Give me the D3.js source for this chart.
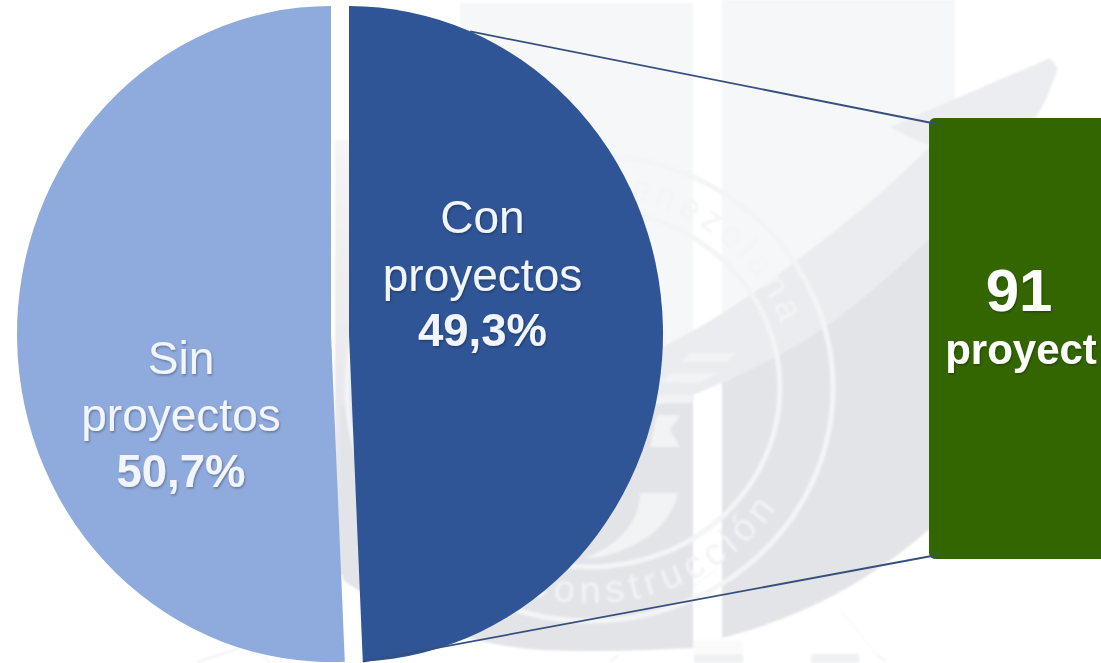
<!DOCTYPE html>
<html><head><meta charset="utf-8">
<script src="https://cdn.jsdelivr.net/npm/d3@7"></script>
<style>html,body{margin:0;padding:0;background:#fff;overflow:hidden}svg{display:block}text{font-family:"Liberation Sans",Arial,sans-serif}</style>
</head><body><svg id="c" width="1101" height="663"></svg>
<script>
const categories = ["Con proyectos", "Sin proyectos"];
const shareValues = [49.3, 50.7];
const shareLabels = ["49,3%", "50,7%"];
const sliceColors = ["#2F5597", "#8FAADC"];
const calloutNumber = "91";
const calloutWord = "proyect";

const svg = d3.select("#c");
const defs = svg.append("defs");
const sh = defs.append("filter").attr("id","sh").attr("x","-20%").attr("y","-20%").attr("width","140%").attr("height","140%");
sh.append("feDropShadow").attr("dx",1).attr("dy",1.5).attr("stdDeviation",1.2).attr("flood-color","#000").attr("flood-opacity",.3);
const gr = defs.append("linearGradient").attr("id","gapGrad").attr("gradientUnits","userSpaceOnUse")
  .attr("x1",0).attr("y1",140).attr("x2",0).attr("y2",500);
gr.append("stop").attr("offset",0).attr("stop-color","#f5f5f6");
gr.append("stop").attr("offset",1).attr("stop-color","#e3e4e8");
const blur = defs.append("filter").attr("id","soft");
blur.append("feGaussianBlur").attr("stdDeviation",.8);

/* watermark */
const wm = svg.append("g").attr("filter","url(#soft)");
const wmShape = (d,c)=>wm.append("path").attr("d",d).attr("fill",c);
wmShape("M460,3 H693 V400 H460 Z","#f6f7f8");
wmShape("M722,0 H955 V400 H722 Z","#f6f7f8");
wmShape("M335,140 H362 V575 H335 Z","url(#gapGrad)");
wmShape("M340,405 L640,405 L693,395 L693,648 C640,651 590,652 540,650 C470,645 400,620 343,580 Z","#e3e4e8");
wmShape("M722,383 C760,365 800,345 830,323 C870,295 905,260 955,215 L955,505 C880,580 800,618 722,638 Z","#e3e4e8");
wmShape("M640,358 C690,335 745,302 797,260 C840,228 895,185 955,120 L955,215 C905,260 870,295 830,323 C800,345 760,365 722,383 L693,395 L640,410 Z","#ebecef");
wmShape("M890,127 L1050,58 L1058,68 C1050,90 1045,105 1035,118 L928,145 L907,136 Z","#ecedf0");
wmShape("M693,640 H743 V653 H693 Z","#fafafa");
wmShape("M694,654 H743 V663 H694 Z","#f0f1f2");
wmShape("M811,654 H859 V663 H811 Z","#f0f1f2");
/* crest details */
const crest = "#f2f3f5";
wmShape("M680,362 L690,353 L737,353 L727,362 Z",crest);
wmShape("M660,382 L673,373 L717,373 L700,383 Z",crest);
wmShape("M655,403 L660,395 L692,395 L692,403 Z",crest);
wmShape("M657,415 L680,415 L670,430 L680,447 L650,447 Z",crest);
wmShape("M640,493 L678,493 C672,520 650,545 600,557 L585,558 C620,545 640,520 640,493 Z",crest);
wm.append("path").attr("fill","none").attr("stroke","#e4e4e6").attr("stroke-width",1)
  .attr("d","M197,662 L240,648 M263,655 L270,663 M610,662 L618,655 M877,655 L887,662");
wm.append("path").attr("fill","none").attr("stroke","#f3f3f4").attr("stroke-width",1)
  .attr("d","M693,587 L718,568 M840,610 L877,655");
const cx0 = 590, cy0 = 388;
[[243,233,5],[190,179,5]].forEach(r=>wm.append("ellipse").attr("cx",cx0).attr("cy",cy0).attr("rx",r[0]).attr("ry",r[1])
  .attr("fill","none").attr("stroke","#f3f4f6").attr("stroke-width",r[2]));
defs.append("path").attr("id","topArc").attr("d",`M${cx0-203},${cy0} A203,193 0 0 1 ${cx0+203},${cy0}`);
defs.append("path").attr("id","botArc").attr("d",`M${cx0-225},${cy0} A225,215 0 0 0 ${cx0+225},${cy0}`);
wm.append("text").attr("font-size",36).attr("fill","#f3f4f6").attr("letter-spacing",5)
  .append("textPath").attr("href","#topArc").attr("startOffset","71%").attr("text-anchor","middle").text("Venezolana");
wm.append("text").attr("font-size",38).attr("fill","#f2f3f5").attr("letter-spacing",6)
  .append("textPath").attr("href","#botArc").attr("startOffset","61%").attr("text-anchor","middle").text("Construcción");

/* pie */
const Rx = 314, Ry = 328, cy = 334;
const apexX = [349, 331];
const pie = d3.pie().sort(null).startAngle(0).endAngle(2*Math.PI);
const arcs = pie(shareValues);
const arc = d3.arc().innerRadius(0).outerRadius(Ry);
const sx = Rx/Ry;
svg.append("g").selectAll("path").data(arcs).join("path")
  .attr("transform",(d,i)=>`translate(${apexX[i]},${cy}) scale(${sx},1)`)
  .attr("d",arc).attr("fill",(d,i)=>sliceColors[i]);

/* callout box */
svg.append("rect").attr("x",929).attr("y",118).attr("width",190).attr("height",441).attr("rx",6)
  .attr("fill","#336600");

/* connector lines */
const rimPoint = a => [apexX[0]+Rx*Math.sin(a), cy-Ry*Math.cos(a)];
const topPt = rimPoint(22.7*Math.PI/180), botPt = rimPoint(arcs[0].endAngle);
const line = d3.line();
[[topPt,[937,124]],[botPt,[937,555]]].forEach(p=>svg.append("path").attr("d",line(p))
  .attr("fill","none").attr("stroke","#35507c").attr("stroke-width",1.8));

/* labels */
const lab = [{x:482.5,ys:[233,291,346]},{x:181,ys:[374,431,487]}];
categories.forEach((c,i)=>{
  const parts = c.split(" ");
  const g = svg.append("g").attr("text-anchor","middle").attr("fill","#f2f5fb").attr("filter","url(#sh)");
  g.append("text").attr("x",lab[i].x).attr("y",lab[i].ys[0]).attr("font-size",46).text(parts[0]);
  g.append("text").attr("x",lab[i].x).attr("y",lab[i].ys[1]).attr("font-size",46).text(parts[1]);
  g.append("text").attr("x",lab[i].x).attr("y",lab[i].ys[2]).attr("font-size",45.5).attr("font-weight",700).text(shareLabels[i]);
});
const g2 = svg.append("g").attr("text-anchor","middle").attr("fill","#fff").attr("font-weight",700).attr("filter","url(#sh)");
g2.append("text").attr("x",1019).attr("y",311).attr("font-size",60).text(calloutNumber);
g2.append("text").attr("x",1021).attr("y",364).attr("font-size",42).text(calloutWord);
</script></body></html>
